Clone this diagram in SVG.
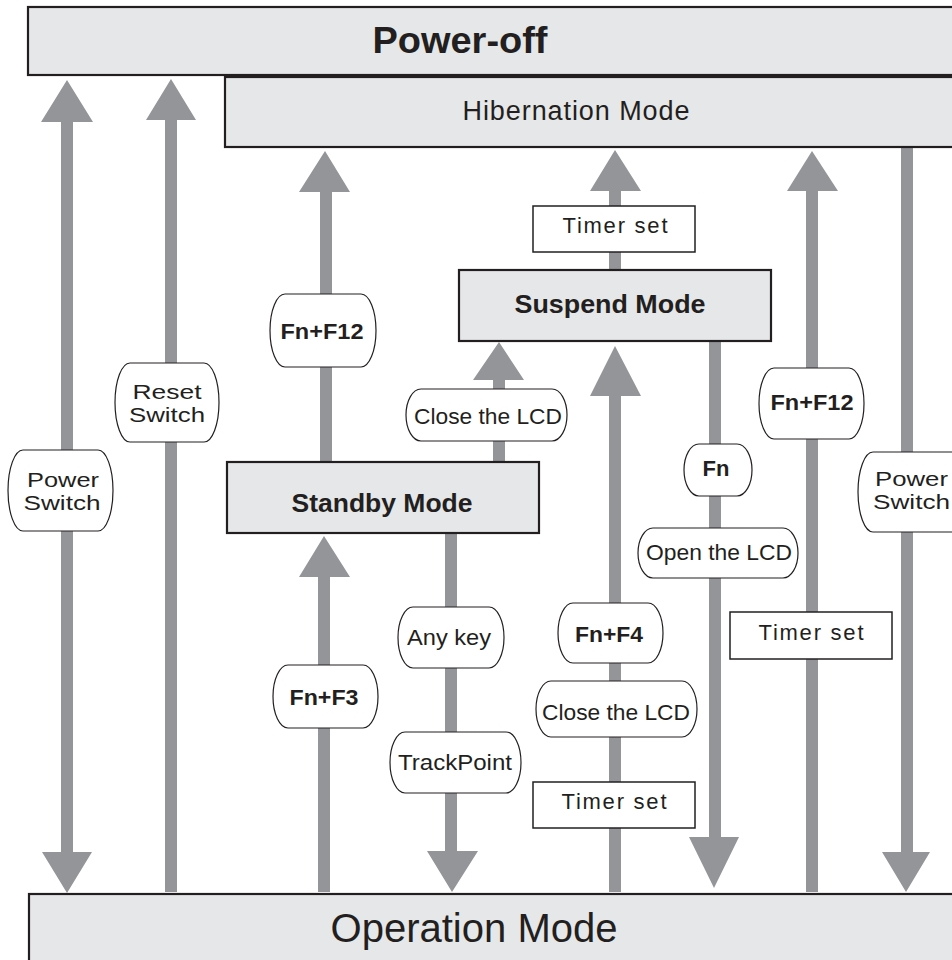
<svg xmlns="http://www.w3.org/2000/svg" width="952" height="960" viewBox="0 0 952 960">
<style>
text{font-family:"Liberation Sans",Arial,sans-serif;fill:#231f20}
.mode{fill:#e6e7e8;stroke:#231f20;stroke-width:2.2}
.lbl{fill:#fff;stroke:#231f20;stroke-width:1.2}
.tmr{fill:#fff;stroke:#231f20;stroke-width:1.5}
.arr{fill:#939598}
.b{font-weight:bold}
.t{font-size:22px}
.t2{font-size:20px}
.c{text-anchor:middle}
</style>
<rect width="952" height="960" fill="#fff"/>
<g id="connectors">
<path class="arr" d="M61,122 H41 L67,80 L93,122 H73 V852 H92 L67,893 L42,852 H61 Z"/>
<path class="arr" d="M165,892 V120 H146 L171,79 L196,120 H177 V892 Z"/>
<path class="arr" d="M320,462 V192 H299 L325,151 L350,192 H332 V462 Z"/>
<path class="arr" d="M493,462 V380 H473 L499,342 L524,380 H505 V462 Z"/>
<path class="arr" d="M609,270 V191 H590 L615,150 L641,191 H621 V270 Z"/>
<path class="arr" d="M318,892 V577 H299 L324,536 L350,577 H330 V892 Z"/>
<path class="arr" d="M445,533 V851 H427 L452,892 L478,851 H457 V533 Z"/>
<path class="arr" d="M609,892 V396 H590 L615,346 L641,396 H621 V892 Z"/>
<path class="arr" d="M709,341 V837 H689 L714,888 L739,837 H721 V341 Z"/>
<path class="arr" d="M806,892 V191 H787 L812,151 L838,191 H818 V892 Z"/>
<path class="arr" d="M901,147 V852 H882 L906,892 L930,852 H913 V147 Z"/>
</g>
<g id="power-off">
<rect class="mode" x="28" y="7" width="940" height="68"/>
<text class="b c" x="460" y="53" font-size="36" textLength="175" lengthAdjust="spacingAndGlyphs">Power-off</text>
</g>
<g id="hibernation">
<rect class="mode" x="225" y="77" width="740" height="70"/>
<text class="c" x="576" y="120" font-size="27" textLength="227" lengthAdjust="spacing">Hibernation Mode</text>
</g>
<g id="suspend">
<rect class="mode" x="459" y="270" width="312" height="71"/>
<text class="b c" x="610" y="313" font-size="26" textLength="191" lengthAdjust="spacingAndGlyphs">Suspend Mode</text>
</g>
<g id="standby">
<rect class="mode" x="227" y="462" width="312" height="71"/>
<text class="b c" x="382" y="512" font-size="26" textLength="181" lengthAdjust="spacingAndGlyphs">Standby Mode</text>
</g>
<g id="operation">
<rect class="mode" x="29" y="894" width="940" height="80"/>
<text class="c" x="474" y="942" font-size="40" textLength="287" lengthAdjust="spacingAndGlyphs">Operation Mode</text>
</g>
<g id="lbl-power-switch-left">
<rect class="lbl" x="8" y="450" width="105" height="81" rx="15" ry="100"/>
<text class="t2 c"><tspan x="63" y="487" textLength="72" lengthAdjust="spacingAndGlyphs">Power</tspan><tspan x="62" y="510" textLength="77" lengthAdjust="spacingAndGlyphs">Switch</tspan></text>
</g>
<g id="lbl-reset-switch">
<rect class="lbl" x="115" y="363" width="104" height="79" rx="15" ry="100"/>
<text class="t2 c"><tspan x="167" y="399" textLength="69" lengthAdjust="spacingAndGlyphs">Reset</tspan><tspan x="167" y="422" textLength="76" lengthAdjust="spacingAndGlyphs">Switch</tspan></text>
</g>
<g id="lbl-fn-f12-left">
<rect class="lbl" x="270" y="294" width="106" height="73" rx="15" ry="100"/>
<text class="t b c" x="322" y="339" textLength="83" lengthAdjust="spacingAndGlyphs">Fn+F12</text>
</g>
<g id="lbl-close-lcd-upper">
<rect class="lbl" x="406" y="389" width="161" height="52" rx="15" ry="100"/>
<text class="t c" x="488" y="424" textLength="148" lengthAdjust="spacingAndGlyphs">Close the LCD</text>
</g>
<g id="lbl-timer-top">
<rect class="tmr" x="533" y="206" width="162" height="46"/>
<text class="t c" x="615" y="233" textLength="105" lengthAdjust="spacing">Timer set</text>
</g>
<g id="lbl-fn-f12-right">
<rect class="lbl" x="759" y="368" width="105" height="71" rx="15" ry="100"/>
<text class="t b c" x="812" y="410" textLength="83" lengthAdjust="spacingAndGlyphs">Fn+F12</text>
</g>
<g id="lbl-fn">
<rect class="lbl" x="684" y="444" width="68" height="52" rx="15" ry="100"/>
<text class="t b c" x="716" y="476">Fn</text>
</g>
<g id="lbl-open-lcd">
<rect class="lbl" x="638" y="528" width="160" height="50" rx="15" ry="100"/>
<text class="t c" x="719" y="560" textLength="146" lengthAdjust="spacingAndGlyphs">Open the LCD</text>
</g>
<g id="lbl-power-switch-right">
<rect class="lbl" x="858" y="452" width="110" height="80" rx="15" ry="100"/>
<text class="t2"><tspan x="875" y="486" textLength="73" lengthAdjust="spacingAndGlyphs">Power</tspan><tspan x="873" y="509" textLength="77" lengthAdjust="spacingAndGlyphs">Switch</tspan></text>
</g>
<g id="lbl-timer-right">
<rect class="tmr" x="730" y="612" width="162" height="47"/>
<text class="t c" x="811" y="640" textLength="105" lengthAdjust="spacing">Timer set</text>
</g>
<g id="lbl-any-key">
<rect class="lbl" x="398" y="607" width="106" height="61" rx="15" ry="100"/>
<text class="t c" x="449" y="645" textLength="84" lengthAdjust="spacingAndGlyphs">Any key</text>
</g>
<g id="lbl-trackpoint">
<rect class="lbl" x="390" y="732" width="131" height="61" rx="15" ry="100"/>
<text class="t c" x="455" y="770" textLength="114" lengthAdjust="spacingAndGlyphs">TrackPoint</text>
</g>
<g id="lbl-fn-f3">
<rect class="lbl" x="273" y="665" width="105" height="63" rx="15" ry="100"/>
<text class="t b c" x="324" y="705" textLength="69" lengthAdjust="spacingAndGlyphs">Fn+F3</text>
</g>
<g id="lbl-fn-f4">
<rect class="lbl" x="558" y="603" width="105" height="60" rx="15" ry="100"/>
<text class="t b c" x="609" y="642" textLength="68" lengthAdjust="spacingAndGlyphs">Fn+F4</text>
</g>
<g id="lbl-close-lcd-lower">
<rect class="lbl" x="536" y="681" width="161" height="56" rx="15" ry="100"/>
<text class="t c" x="616" y="720" textLength="148" lengthAdjust="spacingAndGlyphs">Close the LCD</text>
</g>
<g id="lbl-timer-bottom">
<rect class="tmr" x="533" y="782" width="162" height="46"/>
<text class="t c" x="614" y="809" textLength="105" lengthAdjust="spacing">Timer set</text>
</g>
</svg>
